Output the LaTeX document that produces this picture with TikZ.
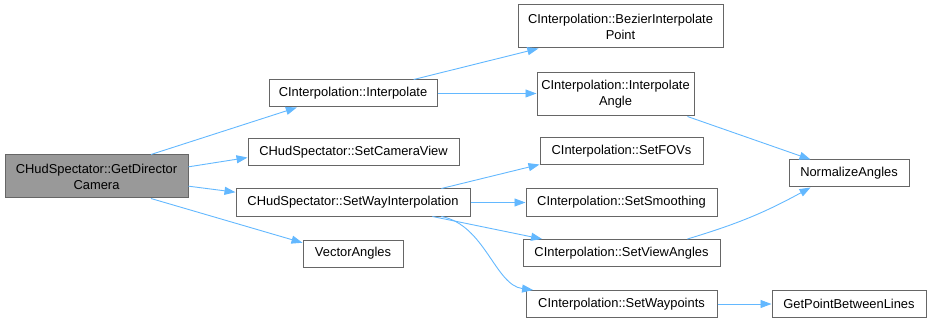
\documentclass[tikz,border=0pt]{standalone}
\usepackage{fontspec}
\setmainfont{Liberation Sans}
\usetikzlibrary{arrows.meta}
\definecolor{callblue}{HTML}{63B8FF}
\definecolor{boxline}{HTML}{666666}
\definecolor{curfill}{HTML}{999999}
\tikzset{
  func/.style={draw=boxline, line width=1pt, fill=white, inner sep=0pt, align=center,
    minimum height=27pt, font=\fontsize{12.9}{16}\selectfont},
  twoline/.style={minimum height=43pt},
  current/.style={fill=curfill},
  call/.style={draw=callblue, line width=0.9pt, -{Triangle[length=11pt,width=8pt]}}
}

\begin{document}
\begin{tikzpicture}[x=1pt, y=-1pt]
\useasboundingbox (0,0) rectangle (931,323);
\node[func, twoline, current, minimum width=183pt] (gdc) at (96.5,176.5) {CHudSpectator::GetDirector\\Camera};
\node[func, minimum width=168pt] (interp) at (353,93.5) {CInterpolation::Interpolate};
\node[func, minimum width=211pt] (camview) at (353.5,152) {CHudSpectator::SetCameraView};
\node[func, minimum width=234pt] (swi) at (353,202.5) {CHudSpectator::SetWayInterpolation};
\node[func, minimum width=100pt] (vecang) at (353,253.5) {VectorAngles};
\node[func, twoline, minimum width=205pt] (bezier) at (620.5,26.5) {CInterpolation::BezierInterpolate\\Point};
\node[func, twoline, minimum width=157pt] (iangle) at (615.5,94.5) {CInterpolation::Interpolate\\Angle};
\node[func, minimum width=163pt] (fovs) at (621.5,151.5) {CInterpolation::SetFOVs};
\node[func, minimum width=191pt] (smooth) at (621.5,202.5) {CInterpolation::SetSmoothing};
\node[func, minimum width=197pt] (viewang) at (621.5,253) {CInterpolation::SetViewAngles};
\node[func, minimum width=191pt] (waypts) at (621.5,304) {CInterpolation::SetWaypoints};
\node[func, minimum width=120pt] (normang) at (849,173.5) {NormalizeAngles};
\node[func, minimum width=154pt] (gpbl) at (849,304) {GetPointBetweenLines};

\draw[call] (gdc.22) -- (interp.194);
\draw[call] (gdc.6.5) -- (camview.183.3);
\draw[call] (gdc.354.7) -- (swi.175.4);
\draw[call] (gdc.338) -- (vecang.168);
\draw[call] (interp.13.3) -- (bezier.195);
\draw[call] (interp.east) -- (iangle.west |- interp.east);
\draw[call] (iangle.343.9) -- (normang.160.9);
\draw[call] (swi.9.9) -- (fovs.189.9);
\draw[call] (swi.east) -- (smooth.west);
\draw[call] (swi.350.1) -- (viewang.170.4);
\draw[call] (swi.351.5) .. controls (485,225) and (495,285) .. (waypts.171.5);
\draw[call] (viewang.12.2) to[bend right=6] (normang.200);
\draw[call] (waypts.east) -- (gpbl.west);
\end{tikzpicture}
\end{document}
